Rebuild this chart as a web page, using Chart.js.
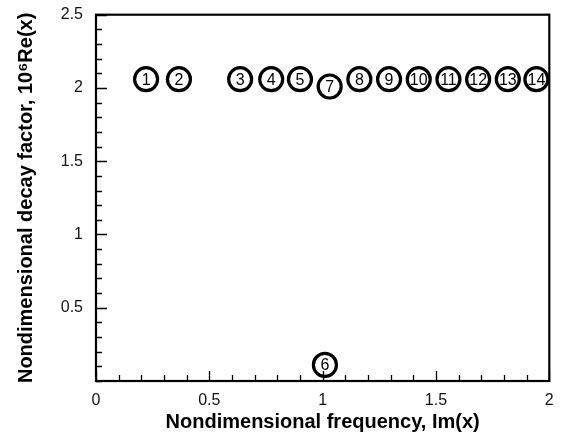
<!DOCTYPE html>
<html>
<head>
<meta charset="utf-8">
<script src="https://cdn.jsdelivr.net/npm/chart.js@4.4.1/dist/chart.umd.min.js"></script>
<style>
  html, body { margin: 0; padding: 0; background: #fff; }
  #wrap { width: 564px; height: 434px; }
</style>
</head>
<body>
<div id="wrap"><canvas id="chart"></canvas></div>
<script>
// mode labels, frequency (x) and decay factor (y)
var modeLabels = ['1', '2', '3', '4', '5', '6', '7', '8', '9', '10', '11', '12', '13', '14'];
var freqValues = [0.221, 0.366, 0.636, 0.773, 0.900, 1.010, 1.031, 1.162, 1.293, 1.424, 1.555, 1.686, 1.817, 1.943];
var decayValues = [2.06, 2.06, 2.06, 2.06, 2.06, 0.11, 2.01, 2.06, 2.06, 2.06, 2.06, 2.06, 2.06, 2.06];

var xTickValues = [0, 0.5, 1, 1.5, 2];
var yTickValues = [0.5, 1, 1.5, 2, 2.5];
var xMinorStep = 0.1;
var yMinorStep = 0.1;

var FONT = "'Liberation Sans', Arial, Helvetica, sans-serif";

var points = freqValues.map(function(x, i) {
    return { x: x, y: decayValues[i] };
});

// box around plot + inward ticks on left and bottom
var frameTicks = {
    id: 'frameTicks',
    afterDatasetsDraw: function(chart) {
        var ctx = chart.ctx;
        var a = chart.chartArea;
        var xs = chart.scales.x, ys = chart.scales.y;
        ctx.save();
        ctx.strokeStyle = '#000';
        ctx.lineWidth = 1.3;
        ctx.beginPath();
        var i, v, p, major;
        for (i = 0; i <= Math.round((xs.max - xs.min) / xMinorStep); i++) {
            v = xs.min + i * xMinorStep;
            major = xTickValues.some(function(t) { return Math.abs(t - v) < 1e-6; });
            p = Math.round(xs.getPixelForValue(v)) + 0.5;
            ctx.moveTo(p, a.bottom);
            ctx.lineTo(p, a.bottom - (major ? 10 : 6));
        }
        for (i = 0; i <= Math.round((ys.max - ys.min) / yMinorStep); i++) {
            v = ys.min + i * yMinorStep;
            major = yTickValues.some(function(t) { return Math.abs(t - v) < 1e-6; });
            p = Math.round(ys.getPixelForValue(v)) + 0.5;
            ctx.moveTo(a.left, p);
            ctx.lineTo(a.left + (major ? 11 : 6), p);
        }
        ctx.stroke();
        ctx.lineWidth = 2.2;
        ctx.strokeRect(a.left, a.top, a.right - a.left, a.bottom - a.top);
        ctx.restore();
    }
};

// numbers inside the circles
var circleLabels = {
    id: 'circleLabels',
    afterDatasetsDraw: function(chart) {
        var ctx = chart.ctx;
        var meta = chart.getDatasetMeta(0);
        ctx.save();
        ctx.fillStyle = '#000';
        ctx.font = '16px ' + FONT;
        ctx.textAlign = 'center';
        ctx.textBaseline = 'middle';
        meta.data.forEach(function(el, i) {
            ctx.fillText(modeLabels[i], el.x, el.y + 1);
        });
        ctx.restore();
    }
};

new Chart(document.getElementById('chart'), {
    type: 'scatter',
    data: {
        datasets: [{
            data: points,
            pointStyle: 'circle',
            pointRadius: 11.5,
            pointHoverRadius: 11.5,
            borderWidth: 3.2,
            borderColor: '#000',
            backgroundColor: 'rgba(0,0,0,0)',
            clip: false
        }]
    },
    options: {
        responsive: true,
        maintainAspectRatio: false,
        animation: false,
        events: [],
        layout: { padding: { top: 14, right: 10, left: 0, bottom: 0 } },
        plugins: {
            legend: { display: false },
            tooltip: { enabled: false }
        },
        scales: {
            x: {
                type: 'linear',
                min: 0,
                max: 2,
                afterBuildTicks: function(scale) {
                    scale.ticks = xTickValues.map(function(v) { return { value: v }; });
                },
                afterFit: function(scale) {
                    scale.height = 53;
                    scale.paddingLeft = 0;
                    scale.paddingRight = 0;
                },
                grid: { display: false, drawTicks: false },
                border: { display: false },
                ticks: {
                    padding: 10,
                    color: '#111',
                    font: { family: FONT, size: 16 },
                    maxRotation: 0,
                    callback: function(v) { return String(v); }
                },
                title: {
                    display: true,
                    text: 'Nondimensional frequency, Im(x)',
                    color: '#000',
                    font: { family: FONT, size: 20, weight: 'bold' },
                    padding: { top: 0, bottom: 0 }
                }
            },
            y: {
                type: 'linear',
                min: 0,
                max: 2.5,
                afterBuildTicks: function(scale) {
                    scale.ticks = yTickValues.map(function(v) { return { value: v }; });
                },
                afterFit: function(scale) {
                    scale.width = 96;
                    scale.paddingTop = 0;
                    scale.paddingBottom = 0;
                },
                grid: { display: false, drawTicks: false },
                border: { display: false },
                ticks: {
                    padding: 13,
                    color: '#111',
                    font: { family: FONT, size: 16 },
                    callback: function(v) { return String(v); }
                },
                title: {
                    display: true,
                    text: 'Nondimensional decay factor, 10\u2076Re(x)',
                    color: '#000',
                    font: { family: FONT, size: 20, weight: 'bold' },
                    padding: { top: 14, bottom: 0 }
                }
            }
        }
    },
    plugins: [frameTicks, circleLabels]
});
</script>
</body>
</html>
